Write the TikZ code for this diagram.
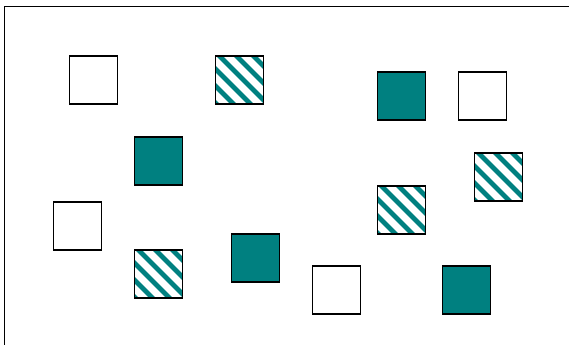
\documentclass[tikz,border=0pt]{standalone}
\definecolor{tealc}{RGB}{0,128,128}
\tikzset{
  sq/.style={draw=black, line width=1.4pt, minimum size=48pt, inner sep=0pt, outer sep=0pt},
  wsq/.style={sq, fill=white},
  tsq/.style={sq, fill=tealc},
  hsq/.style={sq, fill=white, path picture={
      \foreach \k in {-3,...,3}
        \draw[tealc, line width=4.8pt] ([xshift=\k*17pt-4pt, yshift=8pt]path picture bounding box.north west) -- ++(70pt,-70pt);
    }},
  framel/.style={draw=black, line width=1.8pt}
}
\begin{document}
\begin{tikzpicture}[x=1pt,y=-1pt]
\useasboundingbox (0,0) rectangle (569,345);
\draw[framel] (569,6.5) -- (4.5,6.5) -- (4.5,345);
\node[wsq] (w1) at (93.5,80) {};
\node[hsq] (h1) at (239.5,80) {};
\node[tsq] (t1) at (401.5,96) {};
\node[wsq] (w2) at (482.5,96) {};
\node[tsq] (t2) at (158.5,161) {};
\node[hsq] (h2) at (498.5,177) {};
\node[hsq] (h3) at (401.5,210) {};
\node[wsq] (w3) at (77.5,226) {};
\node[hsq] (h4) at (158.5,274) {};
\node[tsq] (t3) at (255.5,258) {};
\node[wsq] (w4) at (336.5,290) {};
\node[tsq] (t4) at (466.5,290) {};
\end{tikzpicture}
\end{document}
